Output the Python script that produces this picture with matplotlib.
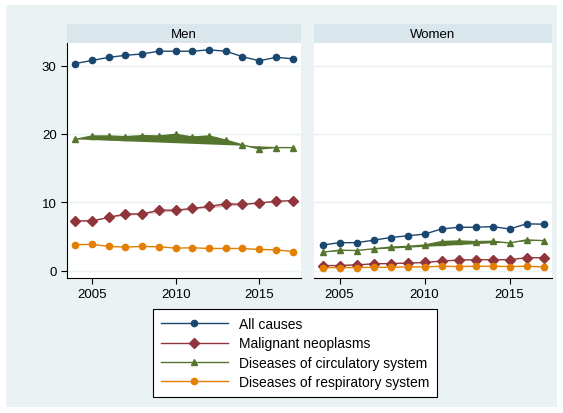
import matplotlib
matplotlib.use('Agg')
import matplotlib.pyplot as plt
from matplotlib.patches import Rectangle
from matplotlib.lines import Line2D

plt.rcParams['font.family'] = ['Liberation Sans', 'DejaVu Sans']

years = list(range(2004, 2018))

men_all = [30.3, 30.75, 31.2, 31.5, 31.7, 32.1, 32.1, 32.1, 32.3, 32.1, 31.3, 30.7, 31.2, 31.0]
men_neo = [7.3, 7.25, 7.8, 8.3, 8.3, 8.85, 8.85, 9.1, 9.4, 9.8, 9.7, 9.9, 10.15, 10.25]
men_circ = [19.2, 19.7, 19.7, 19.6, 19.75, 19.7, 19.95, 19.55, 19.7, 19.1, 18.4, 17.8, 18.0, 18.0]
men_resp = [3.8, 3.85, 3.55, 3.45, 3.55, 3.5, 3.3, 3.35, 3.25, 3.25, 3.25, 3.1, 3.05, 2.8]

women_all = [3.75, 4.1, 4.1, 4.45, 4.85, 5.1, 5.35, 6.1, 6.35, 6.35, 6.45, 6.1, 6.85, 6.8]
women_neo = [0.75, 0.75, 0.85, 1.0, 1.05, 1.1, 1.2, 1.4, 1.55, 1.6, 1.6, 1.6, 1.9, 1.9]
women_circ = [2.7, 3.0, 2.95, 3.2, 3.45, 3.55, 3.75, 4.25, 4.35, 4.25, 4.3, 4.05, 4.5, 4.4]
women_resp = [0.45, 0.45, 0.45, 0.5, 0.5, 0.55, 0.55, 0.65, 0.6, 0.65, 0.65, 0.6, 0.65, 0.55]

labels = ['All causes', 'Malignant neoplasms',
          'Diseases of circulatory system', 'Diseases of respiratory system']
colors = ['#1a476f', '#90353b', '#55752f', '#e37e00']
markers = ['o', 'D', '^', 'o']
msizes = [4.5, 5, 5, 4.5]

W, H = 563, 414
fig = plt.figure(figsize=(W / 100, H / 100), dpi=100)
fig.patches.append(Rectangle((6 / W, 6 / H), (W - 12) / W, (H - 12) / H,
                             transform=fig.transFigure, facecolor='#eaf2f3',
                             edgecolor='none', zorder=-5))


def px(x0, y0, x1, y1):
    return [x0 / W, 1 - y1 / H, (x1 - x0) / W, (y1 - y0) / H]


panels = [('Men', px(67, 44, 301, 279), [men_all, men_neo, men_circ, men_resp]),
          ('Women', px(314, 44, 552, 279), [women_all, women_neo, women_circ, women_resp])]

for i, (title, rect, series) in enumerate(panels):
    ax = fig.add_axes(rect)
    ax.set_facecolor('white')
    for j, vals in enumerate(series):
        if j in (1, 2):
            ax.fill(years, vals, color=colors[j], alpha=1.0 if j == 2 else 0.35,
                    linewidth=0, zorder=2)
        ax.plot(years, vals, color=colors[j], marker=markers[j], markersize=msizes[j],
                linewidth=1, zorder=3)
    ax.set_xlim(2003.5, 2017.5)
    ax.set_ylim(-1.07, 33.3)
    ax.set_yticks([0, 10, 20, 30])
    ax.set_xticks([2005, 2010, 2015])
    ax.grid(axis='y', color='#eaf2f3', linewidth=1)
    ax.set_axisbelow(True)
    for s in ['top', 'right']:
        ax.spines[s].set_visible(False)
    ax.spines['bottom'].set_linewidth(0.8)
    ax.tick_params(labelsize=9.5, length=4, width=0.8, colors='black')
    if i == 0:
        ax.spines['left'].set_linewidth(0.8)
    else:
        ax.spines['left'].set_visible(False)
        ax.tick_params(axis='y', left=False, labelleft=False)

    hx = fig.add_axes(px(rect[0] * W, 25, (rect[0] + rect[2]) * W, 44))
    hx.set_facecolor('#d9e6eb')
    hx.set_xticks([])
    hx.set_yticks([])
    for s in hx.spines.values():
        s.set_visible(False)
    hx.text(0.5, 0.5, title, ha='center', va='center', fontsize=9.5, transform=hx.transAxes)

handles = [Line2D([], [], color=colors[j], marker=markers[j], markersize=msizes[j],
                  linewidth=1) for j in range(4)]
leg = fig.legend(handles, labels, loc='center', bbox_to_anchor=(295 / W, 1 - 354 / H),
                 fontsize=10, frameon=True, fancybox=False, edgecolor='black',
                 facecolor='white', framealpha=1,
                 handlelength=4.8, handletextpad=0.8, labelspacing=0.38,
                 borderpad=0.55, borderaxespad=0)
leg.get_frame().set_linewidth(0.8)

fig.savefig('out.png', dpi=100)
